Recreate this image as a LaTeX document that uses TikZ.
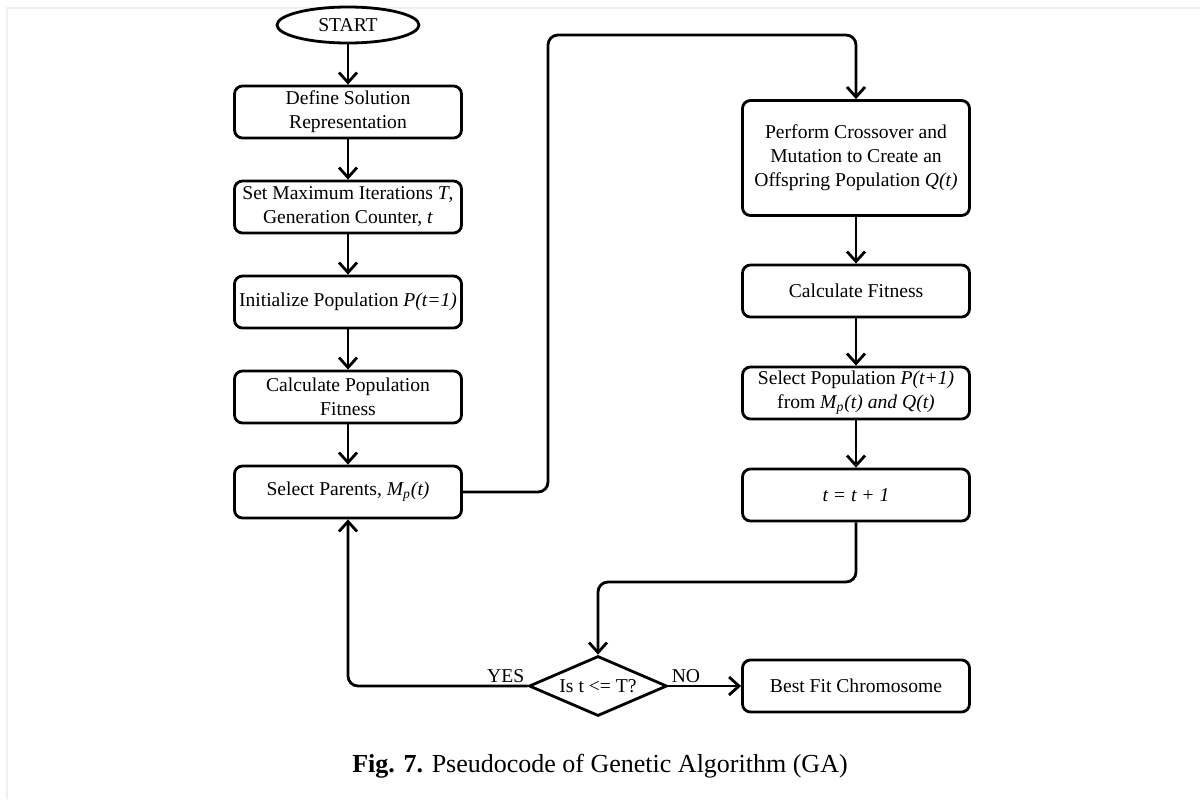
\documentclass[tikz,border=0pt]{standalone}
\usepackage{fontspec}
\setmainfont{Liberation Serif}
\usepackage{tikz}
\usetikzlibrary{shapes.geometric,arrows.meta,positioning}
\newcommand{\gafont}{\fontsize{9.8}{12}\selectfont}
\tikzset{
  box/.style={rectangle, draw, line width=1.4pt, rounded corners=4pt, minimum width=113.5pt, minimum height=26pt, align=center, inner sep=2pt, font=\gafont},
  startbox/.style={ellipse, draw, line width=1.4pt, minimum width=71pt, minimum height=18pt, inner sep=0pt, font=\gafont},
  decision/.style={diamond, draw, line width=1.4pt, aspect=2, minimum width=69pt, minimum height=30pt, inner sep=0pt, font=\gafont},
  arrow/.style={-{Straight Barb[length=5pt, width=9pt]}, line width=1.4pt},
  loopline/.style={arrow, rounded corners=5pt},
  lbl/.style={font=\gafont, inner sep=1.5pt},
}

\begin{document}
\begin{tikzpicture}[x=0.5pt, y=-0.5pt]
  \useasboundingbox (0,0) rectangle (1200,799);
  % faint frame
  \draw[gray!12, line width=1pt] (7,799) -- (7,8) -- (1200,8);

  % Left column
  \node[startbox] (start) at (348,25) {START};
  \node[box] (define) at (348,112) {Define Solution\\Representation};
  \node[box] (setmax) at (348,207) {Set Maximum Iterations \textit{T},\\Generation Counter, \textit{t}};
  \node[box] (init) at (348,302) {Initialize Population \textit{P(t=1)}};
  \node[box] (calcpop) at (348,397) {Calculate Population\\Fitness};
  \node[box] (parents) at (348,492) {Select Parents, \textit{M\textsubscript{p}(t)}};

  \draw[arrow] (start) -- (define);
  \draw[arrow] (define) -- (setmax);
  \draw[arrow] (setmax) -- (init);
  \draw[arrow] (init) -- (calcpop);
  \draw[arrow] (calcpop) -- (parents);

  % Right column
  \node[box, minimum height=57.5pt] (perform) at (856,158) {Perform Crossover and\\Mutation to Create an\\Offspring Population \textit{Q(t)}};
  \node[box] (calcfit) at (856,291) {Calculate Fitness};
  \node[box] (selpop) at (856,393) {Select Population \textit{P(t+1)}\\from \textit{M\textsubscript{p}(t) and Q(t)}};
  \node[box] (incr) at (856,495) {\textit{t = t + 1}};

  \draw[arrow] (perform) -- (calcfit);
  \draw[arrow] (calcfit) -- (selpop);
  \draw[arrow] (selpop) -- (incr);

  % Loop back
  \coordinate (upper) at (548,35);
  \coordinate (lower) at (598,582);
  \draw[loopline] (parents.east) -| (upper) -| (perform.north);

  % Decision
  \node[decision] (check) at (598,686) {Is t <= T?};
  \node[box] (best) at (856,686) {Best Fit Chromosome};

  \draw[loopline] (incr.south) |- (lower) -- (check.north);
  \draw[loopline] (check.west) -| (parents.south);
  \draw[arrow] (check.east) -- (best.west);
  \node[lbl, above left] (yes) at (check.west) {YES};
  \node[lbl, above right] (no) at (check.east) {NO};

  % Caption
  \node[font=\fontsize{13}{15}\selectfont] (caption) at (600,766) {\textbf{Fig. 7.} Pseudocode of Genetic Algorithm (GA)};
\end{tikzpicture}
\end{document}
